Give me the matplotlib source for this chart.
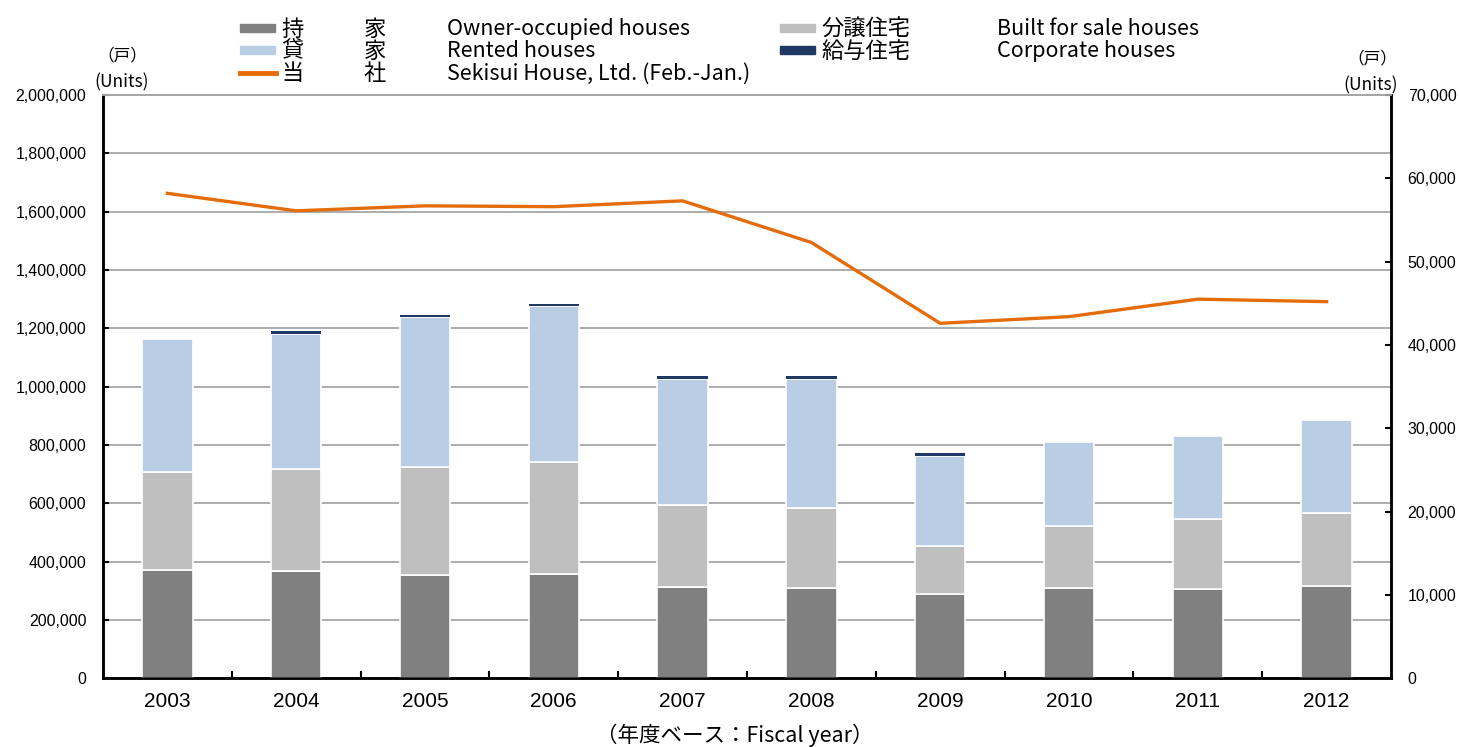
import matplotlib
matplotlib.use("Agg")
import matplotlib.pyplot as plt
import numpy as np
from matplotlib.patches import Rectangle
from matplotlib.lines import Line2D
from matplotlib.ticker import FuncFormatter

# Data
years = ['2003', '2004', '2005', '2006', '2007', '2008', '2009', '2010', '2011', '2012']
owner = [371000, 368000, 354000, 357000, 313000, 309000, 289000, 309000, 306000, 316000]
for_sale = [337000, 349000, 371000, 383000, 282000, 275000, 163000, 212000, 239000, 252000]
rented = [455000, 465000, 515000, 536000, 431000, 443000, 311000, 290000, 287000, 316000]
corporate = [0, 9000, 7000, 8000, 9000, 10000, 11000, 0, 0, 0]
sekisui = [58200, 56100, 56700, 56600, 57300, 52300, 42600, 43400, 45500, 45200]

c_owner = '#808080'
c_sale = '#bfbfbf'
c_rent = '#b9cde5'
c_corp = '#1f3864'
c_line = '#e46c0a'

jp = ['Noto Sans CJK JP', 'DejaVu Sans']
plt.rcParams['font.family'] = ['Liberation Sans', 'DejaVu Sans']

fig = plt.figure(figsize=(14.59, 7.47), dpi=100)
ax = fig.add_axes([0.0706, 0.092, 0.8828, 0.7808])
ax2 = ax.twinx()

x = np.arange(len(years))
w = 0.39
b1 = np.array(owner)
b2 = b1 + np.array(for_sale)
b3 = b2 + np.array(rented)
kw = dict(width=w, edgecolor='white', linewidth=1.2, zorder=3)
ax.bar(x, owner, color=c_owner, **kw)
ax.bar(x, for_sale, bottom=b1, color=c_sale, **kw)
ax.bar(x, rented, bottom=b2, color=c_rent, **kw)
ax.bar(x, corporate, bottom=b3, color=c_corp, width=w, linewidth=0, zorder=3)

ax2.plot(x, sekisui, color=c_line, lw=2.4, zorder=4)

ax.set_xlim(-0.5, len(years) - 0.5)
ax.set_ylim(0, 2000000)
ax2.set_ylim(0, 70000)
ax.set_yticks(np.arange(0, 2000001, 200000))
ax2.set_yticks(np.arange(0, 70001, 10000))
ax.yaxis.set_major_formatter(FuncFormatter(lambda v, p: f'{int(v):,}'))
ax2.yaxis.set_major_formatter(FuncFormatter(lambda v, p: f'{int(v):,}'))
ax.grid(axis='y', color='#a6a6a6', lw=1.3, zorder=0)
ax.set_axisbelow(True)

ax.set_xticks(x)
ax.set_xticklabels(years, fontsize=15)
ax.set_xticks(x[:-1] + 0.5, minor=True)
ax.tick_params(axis='x', which='major', length=0, pad=10)
ax.tick_params(axis='x', which='minor', direction='in', length=5, width=1.5)
ax.tick_params(axis='y', direction='in', length=4, width=1.5, labelsize=11.5, pad=12)
ax2.tick_params(axis='y', direction='in', length=4, width=1.5, labelsize=11.5, pad=12)

for a in (ax, ax2):
    a.spines['top'].set_color('#a6a6a6')
    a.spines['top'].set_linewidth(1.3)
    for s in ('left', 'right', 'bottom'):
        a.spines[s].set_linewidth(1.8)
        a.spines[s].set_color('black')


def px(xp, yp):
    return xp / 1459, 1 - yp / 747


# Unit labels
fig.text(*px(122, 56), '（戸）', family=jp, fontsize=12, ha='center', va='center')
fig.text(*px(122, 82), '(Units)', family=jp, fontsize=12.5, ha='center', va='center')
fig.text(*px(1372, 59), '（戸）', family=jp, fontsize=12, ha='center', va='center')
fig.text(*px(1371, 85), '(Units)', family=jp, fontsize=12.5, ha='center', va='center')

fig.text(*px(735, 735), '（年度ベース：Fiscal year）', family=jp, fontsize=15.5,
         ha='center', va='center')

# Legend built by hand
legend_rows = [
    (240, 29, 'patch', c_owner, ['持', '家'], 'Owner-occupied houses'),
    (240, 51, 'patch', c_rent, ['貸', '家'], 'Rented houses'),
    (240, 74, 'line', c_line, ['当', '社'], 'Sekisui House, Ltd. (Feb.-Jan.)'),
    (780, 29, 'patch', c_sale, ['分譲住宅'], 'Built for sale houses'),
    (780, 51, 'patch', c_corp, ['給与住宅'], 'Corporate houses'),
]
for x0, y0, kind, col, jtxt, etxt in legend_rows:
    if kind == 'patch':
        fx, fy = px(x0, y0 + 3)
        fig.add_artist(Rectangle((fx, fy), 35 / 1459, 8 / 747, color=col,
                                 transform=fig.transFigure))
    else:
        fx0, fy = px(x0, y0 - 1)
        fx1, _ = px(x0 + 36, y0 - 1)
        fig.add_artist(Line2D([fx0, fx1], [fy, fy], color=col, lw=3.5,
                              transform=fig.transFigure))
    fig.text(*px(x0 + 41, y0), jtxt[0], family=jp, fontsize=16, ha='left', va='center')
    if len(jtxt) > 1:
        fig.text(*px(x0 + 124, y0), jtxt[1], family=jp, fontsize=16, ha='left', va='center')
    ex = 447 if x0 < 500 else 997
    fig.text(*px(ex, y0), etxt, family=jp, fontsize=15.5, ha='left', va='center')

fig.savefig('out.png', dpi=100)
